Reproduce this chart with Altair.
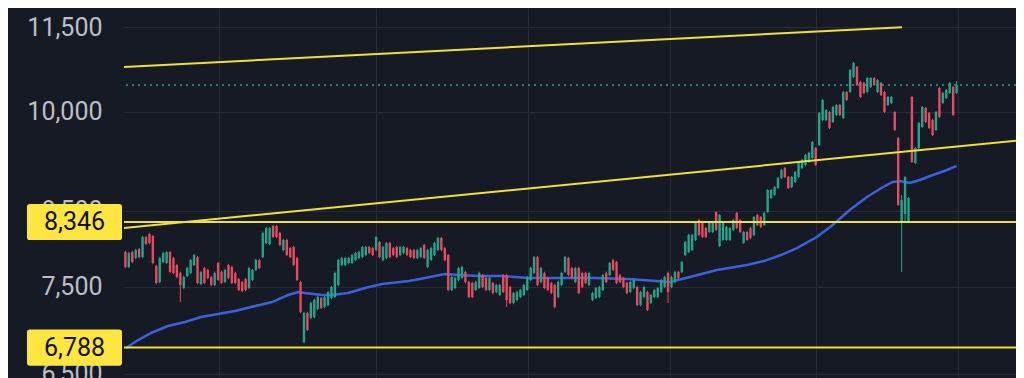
import altair as alt
import pandas as pd

# ---------------- data ----------------
OPEN = [
    # segment A
    7943, 7750, 7943, 7865, 7982, 7878, 8142, 8182, 8155, 7762,
    7561, 7813, 7801, 7943, 7865, 7775, 7674, 7487, 7636, 7674,
    7775, 7878, 7536, 7737, 7712, 7623, 7524, 7801, 7687, 7561,
    7775, 7750, 7674, 7598, 7561, 7598, 7487, 7586, 7712,
    # segment B
    7839, 7878, 8062, 8048, 8290, 8290, 8196, 7969, 8102, 7995,
    8009, 7865, 7561, 6850, 7185, 7126, 7138, 7233, 7364, 7256,
    7280, 7364, 7377, 7524, 7775, 7775, 7801, 7801, 7839, 7865,
    7878, 7904, 8009, 7995, 7969, 8075, 7839, 7865, 8062, 7995,
    8009,
    # segment C
    7904, 7930, 7995, 7969, 7969, 7865, 7878, 8035, 7750, 7839,
    7904, 7969, 8129, 7995, 7904, 7462, 7487, 7586, 7611, 7687,
    7561, 7549, 7462, 7487, 7648, 7611, 7462, 7549, 7438, 7401,
    7648, 7648, 7499, 7304, 7340, 7377, 7401, 7462, 7586,
    # segment D
    7674, 7878, 7561, 7674, 7611, 7549, 7524, 7377, 7524, 7687,
    7865, 7737, 7561, 7737, 7674, 7674, 7524, 7340, 7364, 7377,
    7462, 7674, 7648, 7839, 7813, 7648, 7611, 7549, 7438, 7487,
    7499, 7280, 7377, 7438, 7304, 7377, 7377, 7438, 7499, 7674,
    # segment E
    7499, 7561, 7687, 7687, 7904, 7943, 7969, 8102, 8373, 8345,
    8263, 8209, 8209, 8483, 8022, 8102, 8102, 8102, 8236, 8469,
    8373, 8062, 8209, 8263, 8168, 8442, 8414, 8304, 8483, 8681,
    8724, 8825, 8971, 9120, 8986, 8840, 8913, 8986,
    # segment F
    9120, 9166, 9211, 9272, 9425, 9472, 9869, 9869, 10000, 9837,
    9951, 10116, 9902, 10335, 10335, 10592, 10768, 10506, 10489, 10335,
    10420, 10575, 10335, 10489, 10335, 10116, 10149, 10000, 9582, 8345,
    8456, 8345, 10250, 9196, 9425, 9757, 10066, 9984, 9869, 9708,
    10403, 10149, 10233, 10318, 10420, 10318,
]
CLOSE = [
    7750, 7930, 7813, 7969, 7878, 8142, 8048, 8062, 7801, 7549,
    7865, 7930, 7943, 7687, 7674, 7623, 7524, 7623, 7737, 7839,
    7904, 7549, 7687, 7549, 7611, 7524, 7674, 7586, 7549, 7712,
    7611, 7549, 7549, 7462, 7450, 7462, 7737, 7712, 7839,
    7737, 8196, 8263, 8263, 8142, 8142, 8035, 8102, 7904, 7878,
    7775, 7586, 7197, 7185, 6987, 7304, 7340, 7377, 7245, 7377,
    7438, 7499, 7674, 7839, 7865, 7865, 7865, 7904, 7930, 7943,
    8009, 8009, 7930, 7904, 8142, 7878, 8009, 8062, 7878, 7904,
    7878,
    8009, 8009, 7904, 7878, 7865, 7969, 7995, 7865, 7969, 7995,
    8062, 8129, 7969, 7839, 7462, 7623, 7611, 7737, 7750, 7561,
    7377, 7377, 7561, 7674, 7499, 7462, 7611, 7425, 7524, 7524,
    7438, 7340, 7304, 7425, 7438, 7462, 7524, 7623, 7737,
    7878, 7524, 7737, 7487, 7462, 7425, 7256, 7561, 7674, 7878,
    7648, 7611, 7737, 7425, 7499, 7549, 7674, 7425, 7487, 7499,
    7648, 7561, 7801, 7712, 7549, 7561, 7499, 7425, 7561, 7586,
    7280, 7438, 7499, 7221, 7401, 7462, 7487, 7586, 7623, 7438,
    7623, 7687, 7611, 7813, 8075, 8168, 8168, 8345, 8168, 8142,
    8142, 8345, 8345, 8236, 8442, 8345, 8277, 8263, 8373, 8263,
    8209, 8209, 8102, 8129, 8414, 8304, 8277, 8469, 8796, 8796,
    8840, 8971, 9090, 8986, 8825, 8986, 9060, 9211,
    9241, 9318, 9348, 9519, 9166, 9984, 10199, 10033, 9740, 10083,
    10116, 9951, 10335, 10199, 10715, 10839, 10454, 10250, 10318, 10575,
    10575, 10454, 10540, 10284, 10000, 10250, 10250, 9708, 8582, 8653,
    8986, 8681, 9211, 9425, 9821, 10083, 9837, 9740, 9629, 10000,
    9918, 10318, 10369, 10489, 9951, 10454,
]
HIGH = [
    7960, 7945, 7958, 7985, 7998, 8158, 8158, 8196, 8170, 7778,
    7880, 7945, 7958, 7958, 7880, 7790, 7690, 7638, 7752, 7854,
    7918, 7892, 7702, 7752, 7726, 7638, 7690, 7816, 7702, 7726,
    7790, 7765, 7690, 7612, 7575, 7612, 7752, 7726, 7854,
    7854, 8212, 8278, 8278, 8305, 8305, 8212, 8118, 8118, 8010,
    8024, 7880, 7576, 7200, 7200, 7318, 7354, 7392, 7378, 7392,
    7452, 7514, 7690, 7854, 7880, 7880, 7880, 7918, 7945, 7958,
    8024, 8024, 8024, 8010, 8158, 8090, 8024, 8076, 8076, 8010,
    8024,
    8024, 8024, 8010, 7984, 7984, 7984, 8010, 8050, 7984, 8010,
    8076, 8144, 8144, 8010, 7918, 7638, 7626, 7752, 7765, 7702,
    7576, 7564, 7576, 7690, 7662, 7626, 7626, 7564, 7538, 7538,
    7662, 7662, 7514, 7440, 7452, 7476, 7538, 7638, 7752,
    7892, 7892, 7752, 7690, 7626, 7564, 7538, 7576, 7690, 7892,
    7880, 7752, 7752, 7752, 7690, 7690, 7690, 7440, 7500, 7514,
    7662, 7690, 7816, 7854, 7828, 7662, 7626, 7564, 7576, 7600,
    7514, 7452, 7514, 7452, 7416, 7476, 7500, 7600, 7638, 7690,
    7638, 7702, 7702, 7828, 8090, 8184, 8184, 8360, 8388, 8360,
    8278, 8360, 8360, 8498, 8456, 8360, 8292, 8278, 8388, 8484,
    8388, 8224, 8224, 8278, 8428, 8456, 8428, 8484, 8812, 8812,
    8856, 8988, 9106, 9136, 9002, 9002, 9076, 9228,
    9258, 9334, 9364, 9535, 9440, 10000, 10216, 10050, 10016, 10100,
    10132, 10132, 10352, 10352, 10732, 10856, 10786, 10524, 10506, 10592,
    10592, 10592, 10558, 10506, 10352, 10268, 10268, 10016, 9598, 8724,
    9002, 8696, 10268, 9440, 9838, 10100, 10082, 10000, 9886, 10016,
    10420, 10335, 10386, 10506, 10437, 10523,
]
LOW = [
    7735, 7735, 7798, 7850, 7862, 7862, 8032, 8046, 7786, 7534,
    7546, 7798, 7786, 7672, 7660, 7608, 7316, 7472, 7620, 7660,
    7760, 7534, 7520, 7534, 7596, 7510, 7510, 7572, 7534, 7546,
    7596, 7534, 7534, 7448, 7436, 7448, 7472, 7572, 7698,
    7722, 7862, 8046, 8032, 8128, 8128, 8020, 7954, 7890, 7862,
    7760, 7572, 7185, 6836, 6975, 7112, 7124, 7220, 7232, 7242,
    7266, 7350, 7362, 7510, 7760, 7760, 7786, 7786, 7824, 7850,
    7862, 7890, 7915, 7890, 7954, 7862, 7824, 7850, 7862, 7890,
    7862,
    7890, 7915, 7890, 7862, 7850, 7850, 7862, 7850, 7736, 7824,
    7890, 7954, 7954, 7824, 7448, 7448, 7472, 7572, 7596, 7546,
    7362, 7362, 7448, 7472, 7484, 7448, 7448, 7410, 7424, 7388,
    7424, 7256, 7290, 7290, 7326, 7362, 7388, 7448, 7572,
    7660, 7510, 7546, 7472, 7448, 7410, 7242, 7362, 7510, 7672,
    7634, 7596, 7546, 7410, 7484, 7534, 7510, 7326, 7350, 7362,
    7448, 7546, 7634, 7698, 7534, 7546, 7484, 7410, 7424, 7472,
    7266, 7266, 7362, 7208, 7290, 7362, 7362, 7424, 7484, 7304,
    7484, 7546, 7596, 7672, 7890, 7928, 7954, 8088, 8154, 8128,
    8128, 8194, 8194, 8222, 8008, 8088, 8088, 8088, 8222, 8248,
    8194, 8048, 8088, 8114, 8154, 8290, 8262, 8290, 8468, 8666,
    8710, 8810, 8956, 8970, 8810, 8824, 8898, 8970,
    9104, 9150, 9196, 9256, 9150, 9456, 9852, 9852, 9724, 9820,
    9934, 9934, 9886, 10182, 10318, 10575, 10437, 10233, 10301, 10318,
    10403, 10437, 10318, 10267, 9984, 10099, 10132, 9692, 8568, 7687,
    8345, 8330, 9196, 9180, 9410, 9740, 9820, 9724, 9613, 9692,
    9902, 10132, 10216, 10301, 9934, 10301,
]

# moving average, read at points along the blue curve (candle index, price)
MA_I = [0.2, 3.7, 7.5, 12.4, 17.4, 22.0, 27.0, 31.9, 36.6, 42.7,
        47.4, 50.3, 52.3, 57.3, 60.2, 64.8, 69.8, 74.7, 82.6, 87.2,
        93.0, 97.1, 102.9, 109.6, 117.2, 126.8, 136.7, 146.3, 158.6, 164.4,
        172.2, 181.0, 185.9, 190.9, 195.5, 201.3, 205.9, 210.9, 215.9, 220.6,
        223.4, 225.5, 228.4, 231.3, 235.1, 239.2, 242.0]
MA_V = [6783, 6873, 6953, 7033, 7080, 7138, 7173, 7209, 7256, 7316,
        7401, 7438, 7425, 7401, 7401, 7425, 7487, 7536, 7574, 7611,
        7661, 7648, 7636, 7636, 7611, 7611, 7611, 7598, 7561, 7623,
        7712, 7775, 7826, 7904, 7995, 8142, 8304, 8511, 8695, 8840,
        8913, 8927, 8898, 8942, 9016, 9090, 9151]

Y_TICKS = [6500, 7500, 8500, 10000, 11500]
TIME_GRID = [27.3, 73.0, 117.2, 158.6, 201.1, 242.4]

TREND_ID = ["upper", "upper", "lower", "lower"]
TREND_I = [-0.4, 226.1, -0.4, 261.6]
TREND_V = [10768, 11496, 8263, 9550]

LEVELS = [8346, 6788]
LAST_PRICE = [10454]

# ---------------- style ----------------
BG = "#161a25"
GRID = "#272b36"
GREEN = "#25a489"
RED = "#e64b5e"
BLUE = "#3b62dc"
YELLOW = "#efe03c"
BOX = "#fde63f"
TEAL = "#2fa38e"
FONT = "Roboto"

X_DOMAIN = [-0.4, 259.3]
Y_DOMAIN = [6457, 11865]

xs = alt.Scale(domain=X_DOMAIN, nice=False, zero=False, padding=0)
ys = alt.Scale(type="log", domain=Y_DOMAIN, nice=False, zero=False, padding=0)

candles = pd.DataFrame({
    "i": list(range(len(OPEN))),
    "open": OPEN, "high": HIGH, "low": LOW, "close": CLOSE,
})
candles["dir"] = ["up" if c >= o else "down" for o, c in zip(OPEN, CLOSE)]
ma = pd.DataFrame({"i": MA_I, "v": MA_V})
trend = pd.DataFrame({"id": TREND_ID, "i": TREND_I, "v": TREND_V})
levels = pd.DataFrame({"v": LEVELS})
last = pd.DataFrame({"v": LAST_PRICE})

dir_color = alt.Color("dir:N", scale=alt.Scale(domain=["up", "down"], range=[GREEN, RED]), legend=None)

ma_line = alt.Chart(ma).mark_line(color=BLUE, strokeWidth=2.5).encode(
    x=alt.X("i:Q", scale=xs,
            axis=alt.Axis(values=TIME_GRID, grid=True, gridColor=GRID, gridWidth=1,
                          labels=False, ticks=False, domain=False, title=None)),
    y=alt.Y("v:Q", scale=ys,
            axis=alt.Axis(values=Y_TICKS, format=",", grid=True, gridColor=GRID, gridWidth=1,
                          ticks=False, domain=False, title=None,
                          labelFont=FONT, labelFontSize=25, labelColor="#bcbfc6",
                          labelPadding=22, labelOverlap=False, labelFlush=False)),
)

last_line = alt.Chart(last).mark_rule(color=TEAL, strokeWidth=1.5, strokeDash=[2, 4]).encode(
    y=alt.Y("v:Q", scale=ys)
)

wick = alt.Chart(candles).mark_rule(strokeWidth=1).encode(
    x=alt.X("i:Q", scale=xs), y=alt.Y("low:Q", scale=ys), y2="high:Q", color=dir_color
)
body = alt.Chart(candles).mark_bar(size=2.4).encode(
    x=alt.X("i:Q", scale=xs), y=alt.Y("open:Q", scale=ys), y2="close:Q", color=dir_color
)

trend_lines = alt.Chart(trend).mark_line(color=YELLOW, strokeWidth=2, clip=True).encode(
    x=alt.X("i:Q", scale=xs), y=alt.Y("v:Q", scale=ys), detail="id:N"
)
level_lines = alt.Chart(levels).mark_rule(color=YELLOW, strokeWidth=2).encode(
    y=alt.Y("v:Q", scale=ys)
)

BOX_PATH = ("M-1,-0.32 Q-1,-0.38 -0.94,-0.38 L0.94,-0.38 Q1,-0.38 1,-0.32 "
            "L1,0.32 Q1,0.38 0.94,0.38 L-0.94,0.38 Q-1,0.38 -1,0.32 Z")
boxes = alt.Chart(levels).mark_point(shape=BOX_PATH, filled=True, fill=BOX, opacity=1,
                                      size=95 * 95, strokeWidth=0).encode(
    x=alt.value(-49.5), y=alt.Y("v:Q", scale=ys)
)
box_text = alt.Chart(levels).mark_text(font=FONT, fontSize=25, color="#111111",
                                       align="center", baseline="middle").encode(
    x=alt.value(-49.5), y=alt.Y("v:Q", scale=ys), text=alt.Text("v:Q", format=",")
)

chart = alt.layer(
    ma_line, last_line, wick, body, trend_lines, level_lines, boxes, box_text
).properties(
    width=892, height=370,
    padding={"left": 116, "top": 0, "right": 0, "bottom": 0},
    autosize=alt.AutoSizeParams(type="none"),
    background=BG,
).configure_view(stroke=None)

chart.save("out.html", embed_options={"renderer": "svg", "actions": False})
